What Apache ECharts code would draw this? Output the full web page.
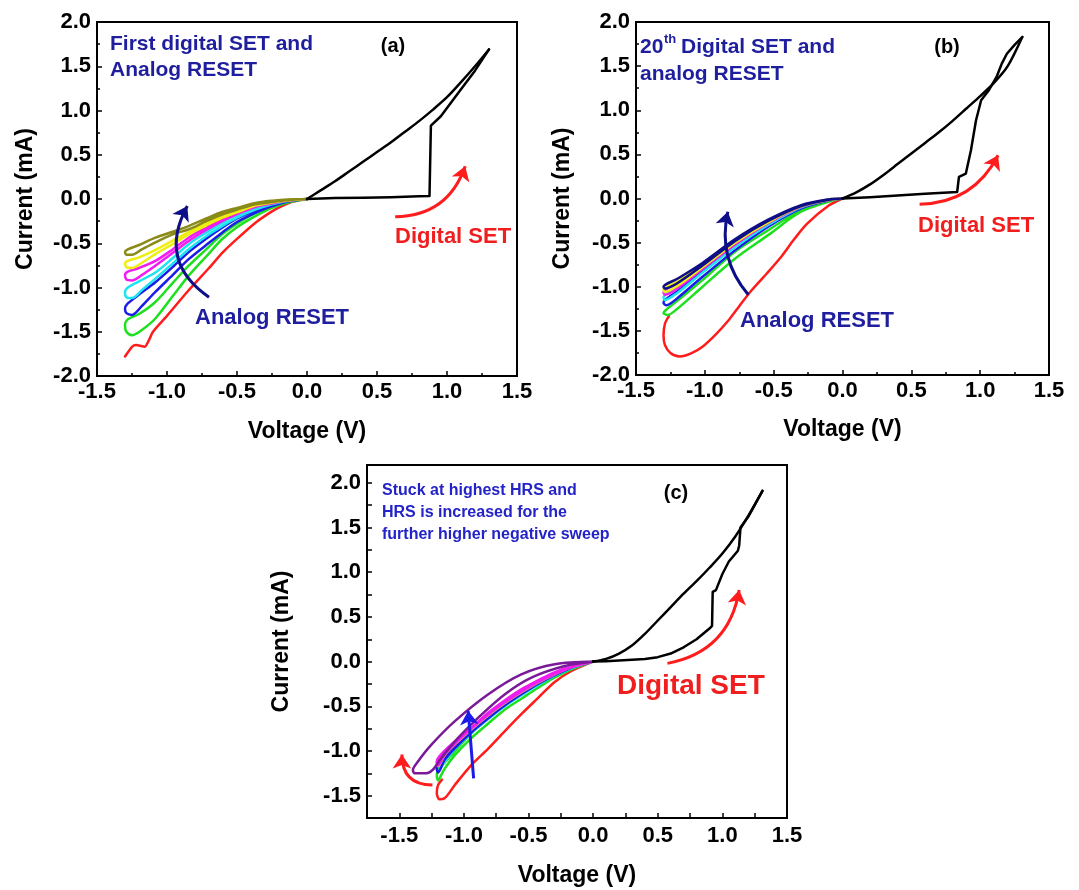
<!DOCTYPE html>
<html><head><meta charset="utf-8">
<script src="https://cdn.jsdelivr.net/npm/echarts@6/dist/echarts.min.js"></script>
<style>html,body{margin:0;padding:0;background:#fff}#c{width:1079px;height:890px}</style>
</head><body><div id="c"></div>
<script>
// ---------- Panel (a) data (Voltage V, Current mA) ----------
const A_SET = [[0,0],[0.2,0.01],[0.4,0.015],[0.6,0.02],[0.8,0.03],[0.875,0.035],[0.885,0.83],[0.956,0.935],[1.1,1.24],[1.2,1.45],[1.3,1.69]];
const A_RET = [[1.3,1.69],[1.2,1.5],[1.1,1.32],[1.0,1.15],[0.9,1.01],[0.8,0.88],[0.7,0.76],[0.6,0.64],[0.5,0.53],[0.4,0.42],[0.3,0.31],[0.2,0.2],[0.1,0.1],[0,0]];
const A_RED = [[0,0],[-0.1,-0.03],[-0.18,-0.08],[-0.25,-0.14],[-0.37,-0.27],[-0.5,-0.45],[-0.6,-0.6],[-0.7,-0.78],[-0.85,-1.04],[-1.0,-1.32],[-1.1,-1.5],[-1.16,-1.67],[-1.22,-1.65],[-1.25,-1.67],[-1.3,-1.78]];
const A_GREEN = [[0,0],[-0.13,-0.037],[-0.25,-0.1],[-0.369,-0.194],[-0.5,-0.32],[-0.607,-0.455],[-0.72,-0.65],[-0.845,-0.866],[-0.96,-1.1],[-1.083,-1.35],[-1.18,-1.48],[-1.25,-1.54],[-1.29,-1.5],[-1.3,-1.43],[-1.28,-1.36],[-1.2,-1.3],[-1.083,-1.164],[-0.96,-0.95],[-0.845,-0.754],[-0.72,-0.57],[-0.607,-0.4],[-0.5,-0.28],[-0.369,-0.157],[-0.25,-0.08],[-0.13,-0.03],[0,0]];
const A_BLUE = [[0,0],[-0.13,-0.026],[-0.25,-0.08],[-0.369,-0.157],[-0.5,-0.26],[-0.607,-0.38],[-0.72,-0.52],[-0.845,-0.68],[-0.96,-0.86],[-1.083,-1.05],[-1.18,-1.21],[-1.25,-1.31],[-1.29,-1.29],[-1.3,-1.24],[-1.28,-1.18],[-1.2,-1.08],[-1.083,-0.94],[-0.96,-0.77],[-0.845,-0.6],[-0.72,-0.45],[-0.607,-0.325],[-0.5,-0.22],[-0.369,-0.127],[-0.25,-0.065],[-0.13,-0.02],[0,0]];
const A_CYAN = [[0,0],[-0.13,-0.02],[-0.25,-0.06],[-0.369,-0.12],[-0.5,-0.21],[-0.607,-0.306],[-0.72,-0.42],[-0.845,-0.567],[-0.96,-0.73],[-1.083,-0.9],[-1.18,-1.03],[-1.25,-1.12],[-1.29,-1.11],[-1.3,-1.05],[-1.28,-1.0],[-1.2,-0.93],[-1.083,-0.83],[-0.96,-0.67],[-0.845,-0.51],[-0.72,-0.38],[-0.607,-0.27],[-0.5,-0.18],[-0.369,-0.1],[-0.25,-0.05],[-0.13,-0.015],[0,0]];
const A_MAGENTA = [[0,0],[-0.13,-0.018],[-0.25,-0.05],[-0.369,-0.09],[-0.5,-0.17],[-0.607,-0.25],[-0.72,-0.35],[-0.845,-0.474],[-0.96,-0.61],[-1.083,-0.754],[-1.18,-0.86],[-1.25,-0.92],[-1.29,-0.91],[-1.3,-0.86],[-1.28,-0.82],[-1.2,-0.78],[-1.083,-0.7],[-0.96,-0.57],[-0.845,-0.437],[-0.72,-0.32],[-0.607,-0.224],[-0.5,-0.15],[-0.369,-0.075],[-0.25,-0.035],[-0.13,-0.01],[0,0]];
const A_YELLOW = [[0,0],[-0.13,-0.015],[-0.25,-0.04],[-0.369,-0.075],[-0.5,-0.15],[-0.607,-0.213],[-0.72,-0.3],[-0.845,-0.4],[-0.96,-0.51],[-1.083,-0.623],[-1.18,-0.72],[-1.25,-0.78],[-1.29,-0.77],[-1.3,-0.73],[-1.28,-0.7],[-1.2,-0.66],[-1.083,-0.575],[-0.96,-0.47],[-0.845,-0.373],[-0.72,-0.27],[-0.607,-0.187],[-0.5,-0.12],[-0.369,-0.06],[-0.25,-0.03],[-0.13,-0.008],[0,0]];
const A_OLIVE = [[0,0],[-0.13,-0.012],[-0.25,-0.035],[-0.369,-0.06],[-0.5,-0.12],[-0.607,-0.175],[-0.72,-0.25],[-0.845,-0.343],[-0.96,-0.4],[-1.083,-0.49],[-1.18,-0.57],[-1.25,-0.63],[-1.29,-0.63],[-1.3,-0.6],[-1.28,-0.57],[-1.2,-0.52],[-1.083,-0.437],[-0.96,-0.37],[-0.845,-0.306],[-0.72,-0.22],[-0.607,-0.146],[-0.5,-0.1],[-0.369,-0.045],[-0.25,-0.02],[-0.13,-0.005],[0,0]];

// ---------- Panel (b) data ----------
const B_SET = [[0,0],[0.2,0.015],[0.4,0.035],[0.6,0.055],[0.833,0.075],[0.846,0.245],[0.896,0.283],[0.933,0.547],[0.97,0.887],[1.007,1.113],[1.06,1.22],[1.119,1.377],[1.157,1.528],[1.194,1.64],[1.25,1.74],[1.306,1.83]];
const B_RET = [[1.306,1.83],[1.2,1.5],[1.1,1.31],[1.0,1.16],[0.9,1.02],[0.8,0.88],[0.7,0.75],[0.6,0.63],[0.5,0.51],[0.4,0.39],[0.3,0.27],[0.2,0.16],[0.1,0.07],[0,0]];
const B_RED = [[0,0],[-0.1,-0.08],[-0.255,-0.283],[-0.35,-0.46],[-0.445,-0.66],[-0.55,-0.85],[-0.66,-1.04],[-0.75,-1.22],[-0.826,-1.377],[-0.92,-1.54],[-1.017,-1.68],[-1.1,-1.755],[-1.183,-1.79],[-1.25,-1.75],[-1.29,-1.66],[-1.3,-1.55],[-1.29,-1.42],[-1.26,-1.33]];
const B_GREEN = [[0,0],[-0.064,-0.019],[-0.302,-0.15],[-0.54,-0.415],[-0.779,-0.68],[-1.017,-1.0],[-1.2,-1.25],[-1.27,-1.32],[-1.3,-1.3],[-1.28,-1.26],[-1.2,-1.16],[-1.017,-0.925],[-0.779,-0.6],[-0.54,-0.36],[-0.3,-0.13],[-0.1,-0.03],[0,0]];
const B_BLUE = [[0,0],[-0.1,-0.02],[-0.3,-0.113],[-0.54,-0.32],[-0.779,-0.585],[-1.017,-0.887],[-1.2,-1.13],[-1.28,-1.21],[-1.3,-1.18],[-1.29,-1.15],[-1.2,-1.05],[-1.017,-0.811],[-0.779,-0.528],[-0.54,-0.283],[-0.3,-0.094],[-0.1,-0.015],[0,0]];
const B_CYAN = [[0,0],[-0.1,-0.018],[-0.3,-0.1],[-0.54,-0.3],[-0.779,-0.55],[-1.017,-0.84],[-1.2,-1.07],[-1.29,-1.15],[-1.3,-1.12],[-1.2,-1.0],[-1.017,-0.78],[-0.779,-0.51],[-0.54,-0.27],[-0.3,-0.09],[-0.1,-0.014],[0,0]];
const B_MAGENTA = [[0,0],[-0.1,-0.017],[-0.3,-0.095],[-0.54,-0.28],[-0.779,-0.52],[-1.017,-0.8],[-1.2,-1.02],[-1.29,-1.09],[-1.3,-1.06],[-1.2,-0.96],[-1.017,-0.76],[-0.779,-0.49],[-0.54,-0.26],[-0.3,-0.085],[-0.1,-0.013],[0,0]];
const B_YELLOW = [[0,0],[-0.1,-0.016],[-0.3,-0.09],[-0.54,-0.27],[-0.779,-0.5],[-1.017,-0.78],[-1.2,-0.99],[-1.29,-1.06],[-1.3,-1.03],[-1.2,-0.94],[-1.017,-0.75],[-0.779,-0.48],[-0.54,-0.255],[-0.3,-0.08],[-0.1,-0.012],[0,0]];
const B_NAVY = [[0,0],[-0.1,-0.015],[-0.3,-0.085],[-0.54,-0.255],[-0.779,-0.48],[-1.017,-0.76],[-1.2,-0.96],[-1.29,-1.02],[-1.3,-1.0],[-1.2,-0.91],[-1.017,-0.73],[-0.779,-0.46],[-0.54,-0.24],[-0.3,-0.075],[-0.1,-0.01],[0,0]];

// ---------- Panel (c) data ----------
const C_SET = [[0,0],[0.1,0.005],[0.2,0.012],[0.3,0.02],[0.4,0.03],[0.5,0.05],[0.6,0.09],[0.7,0.16],[0.8,0.25],[0.9,0.37],[0.92,0.4],[0.925,0.78],[0.95,0.8],[1.0,0.98],[1.05,1.12],[1.12,1.24],[1.13,1.3],[1.14,1.5],[1.2,1.62],[1.25,1.75],[1.31,1.91]];
const C_RET = [[1.31,1.91],[1.2,1.63],[1.1,1.4],[1.0,1.21],[0.9,1.05],[0.8,0.9],[0.7,0.76],[0.6,0.61],[0.5,0.46],[0.4,0.31],[0.3,0.18],[0.2,0.09],[0.1,0.03],[0,0]];
const C_RED = [[0,0],[-0.168,-0.105],[-0.3,-0.23],[-0.426,-0.406],[-0.55,-0.58],[-0.685,-0.78],[-0.81,-0.97],[-0.943,-1.158],[-1.072,-1.383],[-1.15,-1.53],[-1.19,-1.54],[-1.21,-1.47],[-1.2,-1.38],[-1.17,-1.32]];
const C_GREEN = [[0,0],[-0.168,-0.086],[-0.3,-0.18],[-0.426,-0.293],[-0.55,-0.41],[-0.685,-0.538],[-0.81,-0.69],[-0.943,-0.857],[-1.072,-1.05],[-1.15,-1.2],[-1.19,-1.31],[-1.2,-1.33],[-1.21,-1.28],[-1.2,-1.22],[-1.1,-1.05],[-0.943,-0.8],[-0.81,-0.62],[-0.685,-0.48],[-0.55,-0.35],[-0.426,-0.25],[-0.3,-0.15],[-0.168,-0.07],[0,0]];
const C_CYAN = [[0,0],[-0.168,-0.075],[-0.3,-0.16],[-0.426,-0.26],[-0.55,-0.37],[-0.685,-0.5],[-0.81,-0.64],[-0.943,-0.8],[-1.072,-0.98],[-1.15,-1.12],[-1.2,-1.22],[-1.21,-1.2],[-1.19,-1.15],[-1.1,-1.0],[-0.943,-0.78],[-0.81,-0.6],[-0.685,-0.46],[-0.55,-0.33],[-0.426,-0.23],[-0.3,-0.14],[-0.168,-0.065],[0,0]];
const C_BLUE = [[0,0],[-0.168,-0.07],[-0.3,-0.155],[-0.426,-0.25],[-0.55,-0.36],[-0.685,-0.49],[-0.81,-0.63],[-0.943,-0.79],[-1.072,-0.97],[-1.15,-1.1],[-1.2,-1.24],[-1.21,-1.2],[-1.19,-1.13],[-1.1,-0.98],[-0.943,-0.77],[-0.81,-0.59],[-0.685,-0.45],[-0.55,-0.32],[-0.426,-0.22],[-0.3,-0.13],[-0.168,-0.06],[0,0]];
const C_ORANGE = [[0,0],[-0.168,-0.065],[-0.3,-0.145],[-0.426,-0.235],[-0.55,-0.34],[-0.685,-0.465],[-0.81,-0.6],[-0.943,-0.76],[-1.072,-0.93],[-1.15,-1.05],[-1.2,-1.17],[-1.21,-1.13],[-1.19,-1.08],[-1.1,-0.95],[-0.943,-0.75],[-0.81,-0.58],[-0.685,-0.44],[-0.55,-0.31],[-0.426,-0.215],[-0.3,-0.125],[-0.168,-0.058],[0,0]];
const C_MAGENTA = [[0,0],[-0.168,-0.062],[-0.3,-0.14],[-0.426,-0.228],[-0.55,-0.33],[-0.685,-0.455],[-0.81,-0.59],[-0.943,-0.75],[-1.072,-0.92],[-1.15,-1.04],[-1.2,-1.16],[-1.21,-1.12],[-1.19,-1.06],[-1.1,-0.93],[-0.943,-0.74],[-0.81,-0.57],[-0.685,-0.435],[-0.55,-0.305],[-0.426,-0.21],[-0.3,-0.12],[-0.168,-0.055],[0,0]];
const C_PURPLE = [[0,0],[-0.22,-0.05],[-0.478,-0.18],[-0.685,-0.368],[-0.891,-0.63],[-1.047,-0.857],[-1.176,-1.08],[-1.24,-1.21],[-1.29,-1.25],[-1.38,-1.25],[-1.395,-1.214],[-1.357,-1.12],[-1.253,-0.932],[-1.072,-0.669],[-0.814,-0.368],[-0.556,-0.143],[-0.297,-0.03],[0,0]];

// ---------- Annotation arrows (data units: [tail, head]) ----------
const A_ARROW_SET = [[0.63,-0.2],[1.13,0.37]];
const A_ARROW_RESET = [[-0.70,-1.11],[-0.855,-0.08]];
const B_ARROW_SET = [[0.56,-0.064],[1.13,0.49]];
const B_ARROW_RESET = [[-0.684,-1.09],[-0.833,-0.15]];
const C_ARROW_SET = [[0.575,-0.02],[1.13,0.8]];
const C_ARROW_LEFT = [[-1.244,-1.38],[-1.48,-1.04]];
const C_ARROW_UP = [[-0.925,-1.307],[-0.967,-0.55]];

// ---------- Axis ranges ----------
const AB_X_RANGE = [-1.5, 1.5];
const AB_Y_RANGE = [-2.0, 2.0];
const C_X_RANGE = [-1.75, 1.5];
const C_Y_RANGE = [-1.75, 2.2];

const FONT = '"Liberation Sans", Arial, Helvetica, sans-serif';
const COL = {red:'#ff1c1c', green:'#1ee01e', blue:'#1c1ce8', cyan:'#1ce4f0', magenta:'#f01cf0', yellow:'#eeee10',
  olive:'#8a8a18', navy:'#0e0e88', purple:'#7a1a98', orange:'#d8a468', black:'#000000'};
const NAVY_TXT = '#1e1e9e', RED_TXT = '#f01e1e', BLUE_TXT = '#2323c8';

const grids = [
  {left:97, top:22, width:420, height:354},
  {left:636, top:22, width:413, height:353},
  {left:367, top:465, width:420, height:353}
];

function halfLabel(v){ const t=v*2; return Math.abs(t-Math.round(t))<1e-6 ? v.toFixed(1) : ''; }

function xAxisCfg(gi, range, interval, minor, nameGap, margin){
  return {type:'value', gridIndex:gi, min:range[0], max:range[1], interval:interval,
    name:'Voltage (V)', nameLocation:'middle', nameGap:nameGap,
    nameTextStyle:{fontFamily:FONT, fontWeight:'bold', fontSize:23, color:'#000'},
    axisLine:{show:true, onZero:false, lineStyle:{color:'#000', width:2}},
    axisTick:{show:true, inside:true, length:5, lineStyle:{color:'#000', width:1.5}},
    minorTick:{show:minor, splitNumber:2, length:3, lineStyle:{color:'#000', width:1.5}},
    splitLine:{show:false}, minorSplitLine:{show:false},
    axisLabel:{interval:0, fontFamily:FONT, fontWeight:'bold', fontSize:22, color:'#000', margin:margin,
      formatter: v => halfLabel(v)}};
}
function yAxisCfg(gi, range, interval, minor, nameGap){
  return {type:'value', gridIndex:gi, min:range[0], max:range[1], interval:interval,
    name:'Current (mA)', nameLocation:'middle', nameGap:nameGap,
    nameTextStyle:{fontFamily:FONT, fontWeight:'bold', fontSize:23, color:'#000'},
    axisLine:{show:true, onZero:false, lineStyle:{color:'#000', width:2}},
    axisTick:{show:true, inside:true, length:5, lineStyle:{color:'#000', width:1.5}},
    minorTick:{show:minor, splitNumber:2, length:3, lineStyle:{color:'#000', width:1.5}},
    splitLine:{show:false}, minorSplitLine:{show:false},
    axisLabel:{interval:0, fontFamily:FONT, fontWeight:'bold', fontSize:22, color:'#000', margin:6,
      formatter: v => halfLabel(v)}};
}

function curve(gi, data, color, smooth, width){
  return {type:'line', xAxisIndex:gi, yAxisIndex:gi, data:data, showSymbol:false, symbol:'none',
    smooth:smooth, animation:false, silent:true, clip:false,
    lineStyle:{color:color, width:width||2.5, join:'round', cap:'round'}};
}
function arrow(gi, pts, color, curveness, width){
  return {type:'lines', coordinateSystem:'cartesian2d', xAxisIndex:gi, yAxisIndex:gi, polyline:false,
    symbol:['none','arrow'], symbolSize:[11,14], animation:false, silent:true, z:5,
    lineStyle:{color:color, width:width||3, curveness:curveness, opacity:1},
    data:[{coords:pts}]};
}

const series = [
  curve(0, A_RED, COL.red, 0.2), curve(0, A_GREEN, COL.green, 0.3), curve(0, A_BLUE, COL.blue, 0.3),
  curve(0, A_CYAN, COL.cyan, 0.3), curve(0, A_MAGENTA, COL.magenta, 0.3), curve(0, A_YELLOW, COL.yellow, 0.3),
  curve(0, A_OLIVE, COL.olive, 0.3), curve(0, A_SET, COL.black, false), curve(0, A_RET, COL.black, 0.3),
  arrow(0, A_ARROW_SET, COL.red, -0.35), arrow(0, A_ARROW_RESET, COL.navy, 0.45),

  curve(1, B_RED, COL.red, 0.3), curve(1, B_GREEN, COL.green, 0.3), curve(1, B_BLUE, COL.blue, 0.3),
  curve(1, B_CYAN, COL.cyan, 0.3), curve(1, B_MAGENTA, COL.magenta, 0.3), curve(1, B_YELLOW, COL.yellow, 0.3),
  curve(1, B_NAVY, COL.navy, 0.3), curve(1, B_SET, COL.black, false), curve(1, B_RET, COL.black, 0.3),
  arrow(1, B_ARROW_SET, COL.red, -0.3), arrow(1, B_ARROW_RESET, COL.navy, 0.25),

  curve(2, C_RED, COL.red, 0.3), curve(2, C_GREEN, COL.green, 0.3), curve(2, C_CYAN, COL.cyan, 0.3),
  curve(2, C_BLUE, COL.blue, 0.3), curve(2, C_ORANGE, COL.orange, 0.3), curve(2, C_MAGENTA, COL.magenta, 0.3),
  curve(2, C_PURPLE, COL.purple, 0.3), curve(2, C_SET, COL.black, false), curve(2, C_RET, COL.black, 0.3),
  arrow(2, C_ARROW_SET, COL.red, -0.35), arrow(2, C_ARROW_LEFT, COL.red, 0.5), arrow(2, C_ARROW_UP, COL.blue, 0)
];

function txt(x, y, text, size, color, align){
  return {type:'text', x:x, y:y, silent:true, z:10,
    style:{text:text, fill:color, font:'bold '+size+'px '+FONT, align:align||'left', verticalAlign:'middle'}};
}

const graphics = [
  txt(110, 44, 'First digital SET and', 21, NAVY_TXT), txt(110, 70, 'Analog RESET', 21, NAVY_TXT),
  txt(393, 46, '(a)', 20, '#000', 'center'),
  txt(395, 237, 'Digital SET', 22, RED_TXT), txt(195, 318, 'Analog RESET', 22, NAVY_TXT),

  txt(640, 47, '20', 21, NAVY_TXT), txt(664, 39, 'th', 13, NAVY_TXT), txt(681, 47, 'Digital SET and', 21, NAVY_TXT),
  txt(640, 74, 'analog RESET', 21, NAVY_TXT),
  txt(947, 47, '(b)', 20, '#000', 'center'),
  txt(918, 226, 'Digital SET', 22, RED_TXT), txt(740, 321, 'Analog RESET', 22, NAVY_TXT),

  txt(382, 491, 'Stuck at highest HRS and', 16, BLUE_TXT),
  txt(382, 513, 'HRS is increased for the', 16, BLUE_TXT),
  txt(382, 535, 'further higher negative sweep', 16, BLUE_TXT),
  txt(676, 493, '(c)', 20, '#000', 'center'),
  txt(617, 686, 'Digital SET', 28, RED_TXT)
];

const chart = echarts.init(document.getElementById('c'), null, {renderer:'canvas'});
chart.setOption({
  animation:false,
  backgroundColor:'#fff',
  grid: grids.map(g => Object.assign({show:true, borderColor:'#000', borderWidth:2, backgroundColor:'transparent', containLabel:false}, g)),
  xAxis:[
    xAxisCfg(0, AB_X_RANGE, 0.5, true, 44, 5),
    xAxisCfg(1, AB_X_RANGE, 0.5, true, 43, 5),
    xAxisCfg(2, C_X_RANGE, 0.25, false, 46, 7)
  ],
  yAxis:[
    yAxisCfg(0, AB_Y_RANGE, 0.5, true, 60),
    yAxisCfg(1, AB_Y_RANGE, 0.5, true, 62),
    yAxisCfg(2, C_Y_RANGE, 0.25, false, 74)
  ],
  series: series,
  graphic: graphics
});
</script></body></html>
